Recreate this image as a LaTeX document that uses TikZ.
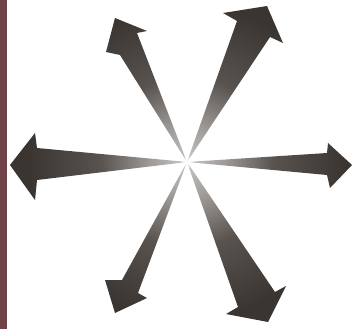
\documentclass[tikz,border=0pt]{standalone}
\definecolor{stripcol}{RGB}{112,66,72}
\definecolor{arrowdark}{RGB}{58,53,48}
\definecolor{midgray}{RGB}{160,156,153}
\definecolor{darkgrayb}{RGB}{88,83,79}
\pgfdeclareradialshading{burst}{\pgfpoint{0bp}{0bp}}{color(0bp)=(white); color(1bp)=(white!75!black); color(5bp)=(midgray); color(12bp)=(darkgrayb); color(22bp)=(arrowdark); color(50bp)=(arrowdark)}
\tikzset{burstfill/.style={shading=burst}}
\begin{document}
\begin{tikzpicture}[x=1pt,y=-1pt]
\useasboundingbox (0,0) rectangle (353,329);
\fill[white] (0,0) rectangle (353,329);
\fill[stripcol] (0,0) rectangle (7,329);
\coordinate (C) at (187,162);
\begin{scope}
\clip (C) -- (120,55) -- (106,52) -- (115,18) -- (147,31) -- (137,33) -- cycle
 (C) -- (237,21) -- (223,13) -- (267,6) -- (283,43) -- (270,37) -- cycle
 (C) -- (327,153) -- (328,143) -- (352,165) -- (330,188) -- (327,175) -- cycle
 (C) -- (275,292) -- (286,286) -- (268,322) -- (226,314) -- (238,307) -- cycle
 (C) -- (138,293) -- (147,298) -- (115,313) -- (105,280) -- (122,280) -- cycle
 (C) -- (37,180) -- (35,200) -- (10,165) -- (35,133) -- (37,148) -- cycle;
\shade[burstfill] (C) circle[radius=180pt];
\end{scope}
\end{tikzpicture}
\end{document}
